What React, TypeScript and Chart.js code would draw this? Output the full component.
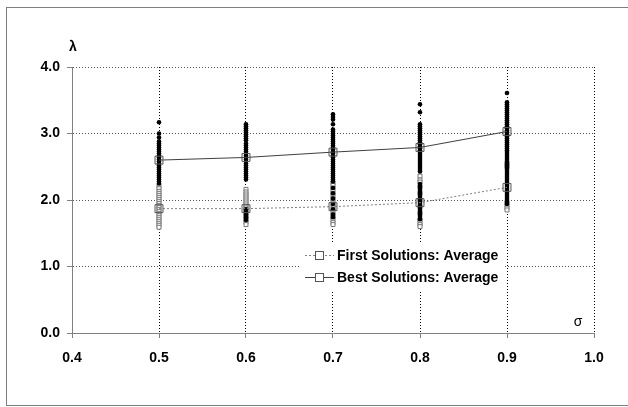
import React, { useEffect, useRef } from "react";
import { Chart, registerables } from "chart.js";

Chart.register(...registerables);

const sigmas = [0.5, 0.6, 0.7, 0.8, 0.9];

const best05 = [3.17, 3.0, 2.94, 2.88, 2.85, 2.82, 2.79, 2.76, 2.73, 2.7, 2.67, 2.64, 2.61, 2.58, 2.55, 2.52, 2.49, 2.46, 2.43, 2.4, 2.37, 2.34, 2.31, 2.28, 2.25];
const best06 = [3.14, 3.11, 3.08, 3.05, 3.02, 2.99, 2.96, 2.93, 2.9, 2.85, 2.82, 2.79, 2.76, 2.73, 2.7, 2.67, 2.64, 2.61, 2.58, 2.55, 2.52, 2.49, 2.46, 2.43, 2.4, 2.37, 2.34, 2.31, 1.86, 1.82, 1.78, 1.74, 1.7];
const best07 = [3.29, 3.25, 3.21, 3.14, 3.06, 3.03, 3.0, 2.97, 2.94, 2.91, 2.88, 2.85, 2.82, 2.79, 2.76, 2.73, 2.7, 2.67, 2.64, 2.61, 2.58, 2.55, 2.52, 2.49, 2.46, 2.43, 2.4, 2.37, 2.34, 2.31, 2.28, 2.18, 2.1, 2.02, 1.94, 1.86, 1.78, 1.74];
const best08 = [3.44, 3.32, 3.14, 3.11, 3.08, 3.05, 3.02, 2.99, 2.96, 2.93, 2.9, 2.87, 2.84, 2.81, 2.78, 2.75, 2.72, 2.69, 2.66, 2.63, 2.6, 2.57, 2.54, 2.51, 2.48, 2.45, 2.43, 2.24, 2.21, 2.18, 2.15, 2.12, 2.09, 2.06, 2.03, 2.0, 1.97, 1.94, 1.91, 1.88, 1.85, 1.82, 1.79, 1.76, 1.73, 1.71];
const best09 = [3.61, 3.47, 3.44, 3.41, 3.38, 3.35, 3.32, 3.29, 3.26, 3.23, 3.2, 3.17, 3.14, 3.11, 3.08, 3.05, 3.02, 2.99, 2.96, 2.93, 2.9, 2.87, 2.84, 2.81, 2.78, 2.75, 2.72, 2.69, 2.66, 2.63, 2.6, 2.57, 2.54, 2.51, 2.48, 2.45, 2.42, 2.39, 2.36, 2.33, 2.3, 2.27, 2.24, 2.21, 2.18, 2.15, 2.12, 2.09, 2.06, 2.03, 2.0, 1.97, 1.94];

const first05 = [2.21, 2.17, 2.13, 2.1, 2.07, 2.04, 2.01, 1.98, 1.95, 1.92, 1.89, 1.86, 1.83, 1.8, 1.77, 1.74, 1.71, 1.68, 1.65, 1.62, 1.59];
const first06 = [2.16, 2.12, 2.09, 2.06, 2.03, 2.0, 1.97, 1.94, 1.91, 1.88, 1.85, 1.82, 1.79, 1.76, 1.73, 1.7, 1.67, 1.63];
const first07 = [2.26, 2.22, 2.18, 2.14, 2.1, 2.06, 2.02, 1.98, 1.94, 1.9, 1.86, 1.82, 1.78, 1.74, 1.7, 1.66, 1.63];
const first08 = [2.36, 2.3, 2.27, 2.2, 2.1, 2.0, 1.9, 1.8, 1.7, 1.66, 1.63, 1.6];
const first09 = [2.55, 2.5, 1.96, 1.92, 1.88, 1.85];

const bestAverage = [2.6, 2.64, 2.72, 2.79, 3.03];
const firstAverage = [1.87, 1.87, 1.9, 1.96, 2.19];

const xTicks = [0.4, 0.5, 0.6, 0.7, 0.8, 0.9, 1.0];
const yTicks = [0, 1, 2, 3, 4];

const legendLabels = ["First Solutions: Average", "Best Solutions: Average"];

const FONT = '"Liberation Sans", Arial, sans-serif';

const pts = (x: number, ys: number[]) => ys.map((y) => ({ x, y }));

export default function App() {
  const ref = useRef<HTMLCanvasElement | null>(null);

  useEffect(() => {
    document.body.style.margin = "0";
    const canvas = ref.current;
    if (!canvas) return;

    const bestAll = [best05, best06, best07, best08, best09].flatMap((ys, i) => pts(sigmas[i], ys));
    const firstAll = [first05, first06, first07, first08, first09].flatMap((ys, i) => pts(sigmas[i], ys));

    const decor = {
      id: "decor",
      beforeDraw(chart: any) {
        const ctx = chart.ctx;
        ctx.save();
        ctx.fillStyle = "#fff";
        ctx.fillRect(0, 0, chart.width, chart.height);
        ctx.strokeStyle = "#808080";
        ctx.lineWidth = 1;
        ctx.strokeRect(6.5, 7.5, 700, 398);
        ctx.restore();
      },
      afterDatasetsDraw(chart: any) {
        const ctx = chart.ctx;
        const a = chart.chartArea;
        ctx.save();
        // axis titles
        ctx.fillStyle = "#000";
        ctx.font = `bold 14px ${FONT}`;
        ctx.textAlign = "center";
        ctx.textBaseline = "middle";
        ctx.fillText("λ", a.left + 1, a.top - 20);
        ctx.font = `14px ${FONT}`;
        ctx.fillText("σ", a.right - 16, a.bottom - 11);

        // legend
        ctx.fillStyle = "#fff";
        ctx.fillRect(300, 242, 205, 48);
        const rows = [255, 277];
        rows.forEach((ry, i) => {
          ctx.beginPath();
          ctx.strokeStyle = i === 0 ? "#808080" : "#404040";
          ctx.setLineDash(i === 0 ? [2, 2] : []);
          ctx.lineWidth = 1;
          ctx.moveTo(305, ry + 0.5);
          ctx.lineTo(334, ry + 0.5);
          ctx.stroke();
          ctx.setLineDash([]);
          ctx.fillStyle = "#fff";
          ctx.fillRect(315, ry - 3.5, 8, 8);
          ctx.strokeStyle = "#555";
          ctx.strokeRect(315.5, ry - 3.5, 8, 8);
          ctx.fillStyle = "#000";
          ctx.font = `bold 14px ${FONT}`;
          ctx.textAlign = "left";
          ctx.textBaseline = "middle";
          ctx.fillText(legendLabels[i], 337, ry + 1);
        });
        ctx.restore();
      },
    };

    const chart = new Chart(canvas, {
      type: "scatter",
      data: {
        datasets: [
          {
            label: legendLabels[1],
            data: sigmas.map((x, i) => ({ x, y: bestAverage[i] })),
            showLine: true,
            borderColor: "#404040",
            borderWidth: 1,
            pointStyle: "rect",
            pointRadius: 5.6,
            pointBackgroundColor: "rgba(0,0,0,0)",
            pointBorderColor: "#555",
            pointBorderWidth: 1,
            order: 0,
          },
          {
            label: legendLabels[0],
            data: sigmas.map((x, i) => ({ x, y: firstAverage[i] })),
            showLine: true,
            borderColor: "#808080",
            borderDash: [2, 2],
            borderWidth: 1,
            pointStyle: "rect",
            pointRadius: 5.6,
            pointBackgroundColor: "rgba(0,0,0,0)",
            pointBorderColor: "#555",
            pointBorderWidth: 1,
            order: 1,
          },
          {
            label: "Best",
            data: bestAll,
            pointStyle: "circle",
            pointRadius: 2.3,
            pointBackgroundColor: "#000",
            pointBorderWidth: 0,
            order: 2,
          },
          {
            label: "First",
            data: firstAll,
            pointStyle: "rect",
            pointRadius: 2.8,
            pointBackgroundColor: "#fff",
            pointBorderColor: "#777",
            pointBorderWidth: 1,
            order: 3,
          },
        ],
      },
      options: {
        responsive: false,
        animation: false,
        devicePixelRatio: 1,
        layout: { padding: { left: 0, top: 67, right: 34, bottom: 0 } },
        plugins: {
          legend: { display: false },
          tooltip: { enabled: false },
        },
        scales: {
          x: {
            type: "linear",
            min: 0.4,
            max: 1.0,
            afterFit: (s: any) => {
              s.height = 74;
            },
            afterBuildTicks: (s: any) => {
              s.ticks = xTicks.map((v) => ({ value: v }));
            },
            ticks: {
              color: "#000",
              font: { family: FONT, size: 14, weight: "bold" },
              padding: 12,
              maxRotation: 0,
              callback: (v: any) => Number(v).toFixed(1),
            },
            grid: {
              color: "#000",
              lineWidth: 1,
              tickLength: 5,
              tickColor: "#808080",
              drawOnChartArea: true,
            },
            border: { display: true, color: "#808080", width: 1, dash: [1, 2] },
          },
          y: {
            type: "linear",
            min: 0,
            max: 4,
            afterFit: (s: any) => {
              s.width = 72;
            },
            afterBuildTicks: (s: any) => {
              s.ticks = yTicks.map((v) => ({ value: v }));
            },
            ticks: {
              color: "#000",
              font: { family: FONT, size: 14, weight: "bold" },
              padding: 7,
              callback: (v: any) => Number(v).toFixed(1),
            },
            grid: {
              color: "#555",
              lineWidth: 1,
              tickLength: 5,
              tickColor: "#808080",
            },
            border: { display: true, color: "#808080", width: 1, dash: [1, 2] },
          },
        },
      },
      plugins: [decor],
    });

    return () => chart.destroy();
  }, []);

  return (
    <div style={{ position: "absolute", left: 0, top: 0, width: 628, height: 407 }}>
      <canvas ref={ref} width={628} height={407} style={{ width: 628, height: 407, display: "block" }} />
    </div>
  );
}
